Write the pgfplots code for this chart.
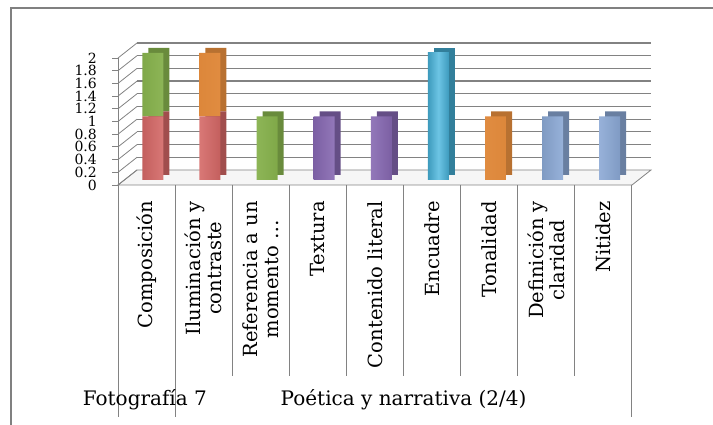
\documentclass[border=0pt]{standalone}
\usepackage{fontspec}
\setmainfont{DejaVu Serif}
\usepackage{pgfplots}
\pgfplotsset{compat=1.18}
\usepackage{pgfplotstable}

\pgfplotstableread{
x red green orange purple cyan blue
0 1 1 0 0 0 0
1 1 0 1 0 0 0
2 0 1 0 0 0 0
3 0 0 0 1 0 0
4 0 0 0 1 0 0
5 0 0 0 0 2 0
6 0 0 1 0 0 0
7 0 0 0 0 0 1
8 0 0 0 0 0 1
}\datatable

\definecolor{redF}{RGB}{230,112,110}
\definecolor{greenF}{RGB}{150,198,85}
\definecolor{orangeF}{RGB}{245,150,65}
\definecolor{purpleF}{RGB}{145,112,192}
\definecolor{cyanF}{RGB}{72,182,222}
\definecolor{blueF}{RGB}{150,182,230}
\definecolor{gridc}{RGB}{130,130,130}
\definecolor{framec}{RGB}{128,128,128}

\pgfplotsset{
  barbase/.style={
    scale only axis, width=514pt, height=127pt,
    xmin=-0.5, xmax=8.5, ymin=0, ymax=2,
    hide axis, clip=false,
    ybar stacked, bar width=21pt,
  },
}

\begin{document}
\begin{tikzpicture}[x=1pt,y=1pt]
\path[use as bounding box] (0,0) rectangle (713,425);
\draw[framec, line width=1.5pt] (11,0) -- (11,417) -- (713,417);

% frame axis: front plane
\begin{axis}[
  at={(118pt,240pt)}, anchor=south west,
  scale only axis, width=514pt, height=127pt,
  xmin=-0.5, xmax=8.5, ymin=0, ymax=2, clip=false,
  axis line style={draw=none}, tick style={draw=none},
  ytick={0,0.2,0.4,0.6,0.8,1,1.2,1.4,1.6,1.8,2},
  /pgf/number format/assume math mode=true,
  yticklabel style={font=\fontsize{14}{14}\selectfont, anchor=east, inner sep=0pt, xshift=-21pt},
  xtick={0,1,2,3,4,5,6,7,8},
  xticklabels={Composición, {Iluminación y\\contraste}, {Referencia a un\\momento …}, Textura, Contenido literal, Encuadre, Tonalidad, {Definición y\\claridad}, Nitidez},
  xticklabel style={rotate=90, anchor=east, align=center, inner sep=0pt, font=\fontsize{19.5}{21}\selectfont},
  xticklabel shift=16pt,
]
% floor
\filldraw[fill=gray!7, draw=gridc, line width=0.8pt]
  (axis cs:-0.5,0) -- (axis cs:8.5,0) -- ([shift={(19pt,15pt)}]axis cs:8.5,0)
  -- ([shift={(19pt,15pt)}]axis cs:-0.5,0) -- cycle;
\pgfplotsinvokeforeach{0.2,0.4,0.6,0.8,1,1.2,1.4,1.6,1.8,2}{
  \draw[gridc, line width=1.2pt] ([shift={(19pt,15pt)}]axis cs:-0.5,#1) -- ([shift={(19pt,15pt)}]axis cs:8.5,#1);
}
\pgfplotsinvokeforeach{0,0.2,0.4,0.6,0.8,1,1.2,1.4,1.6,1.8,2}{
  \draw[gridc, line width=0.8pt] (axis cs:-0.5,#1) -- ([shift={(19pt,15pt)}]axis cs:-0.5,#1);
  \draw[gridc, line width=0.8pt] (axis cs:-0.5,#1) -- ([shift={(-6pt,0pt)}]axis cs:-0.5,#1);
}
\draw[gridc, line width=0.8pt] (axis cs:-0.5,0) -- (axis cs:-0.5,2);
% category separators
\pgfplotsinvokeforeach{1.5,2.5,3.5,4.5,5.5,6.5,7.5}{
  \draw[gridc, line width=1pt] (axis cs:#1,0) -- ([shift={(0pt,-191pt)}]axis cs:#1,0);
}
\pgfplotsinvokeforeach{-0.5,0.5,8.5}{
  \draw[gridc, line width=1pt] (axis cs:#1,0) -- ([shift={(0pt,-232pt)}]axis cs:#1,0);
}
\node[font=\fontsize{20}{20}\selectfont] at ([yshift=-215pt]axis cs:-0.03,0) {Fotografía 7};
\node[font=\fontsize{20}{20}\selectfont] at ([yshift=-215pt]axis cs:4.5,0) {Poética y narrativa (2/4)};
\end{axis}

% depth (side/top faces)
\begin{axis}[barbase, at={(130.3pt,250pt)}, anchor=south west]
\addplot[draw=none, fill=redF!70!black] table[x=x,y=red]{\datatable};
\addplot[draw=none, fill=greenF!70!black] table[x=x,y=green]{\datatable};
\addplot[draw=none, fill=orangeF!75!black] table[x=x,y=orange]{\datatable};
\addplot[draw=none, fill=purpleF!70!black] table[x=x,y=purple]{\datatable};
\addplot[draw=none, fill=cyanF!70!black] table[x=x,y=cyan]{\datatable};
\addplot[draw=none, fill=blueF!70!black] table[x=x,y=blue]{\datatable};
\end{axis}

% front faces
\begin{axis}[barbase, at={(124.3pt,245pt)}, anchor=south west]
\addplot[draw=none, left color=redF!85!black, right color=redF!85!black, middle color=redF!80!white] table[x=x,y=red]{\datatable};
\addplot[draw=none, left color=greenF!85!black, right color=greenF!85!black, middle color=greenF!80!white] table[x=x,y=green]{\datatable};
\addplot[draw=none, left color=orangeF!90!black, right color=orangeF!90!black, middle color=orangeF!80!white] table[x=x,y=orange]{\datatable};
\addplot[draw=none, left color=purpleF!85!black, right color=purpleF!85!black, middle color=purpleF!80!white] table[x=x,y=purple]{\datatable};
\addplot[draw=none, left color=cyanF!85!black, right color=cyanF!85!black, middle color=cyanF!80!white] table[x=x,y=cyan]{\datatable};
\addplot[draw=none, left color=blueF!85!black, right color=blueF!85!black, middle color=blueF!80!white] table[x=x,y=blue]{\datatable};
\end{axis}
\end{tikzpicture}
\end{document}
